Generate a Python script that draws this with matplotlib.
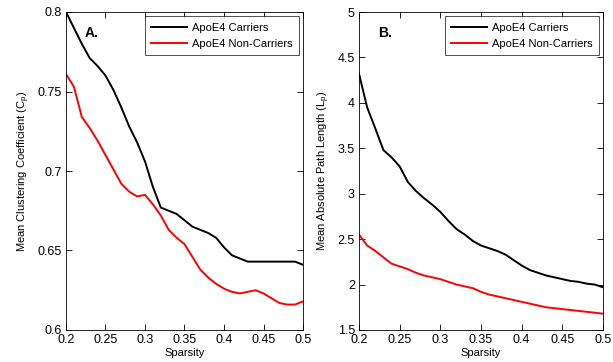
import matplotlib
matplotlib.use('Agg')
import matplotlib.pyplot as plt

plt.rcParams['font.family'] = ['Liberation Sans', 'DejaVu Sans']
plt.rcParams['font.size'] = 8

sparsity = [0.20, 0.21, 0.22, 0.23, 0.24, 0.25, 0.26, 0.27, 0.28, 0.29, 0.30,
            0.31, 0.32, 0.33, 0.34, 0.35, 0.36, 0.37, 0.38, 0.39, 0.40,
            0.41, 0.42, 0.43, 0.44, 0.45, 0.46, 0.47, 0.48, 0.49, 0.50]

# A: mean clustering coefficient
cp_carriers = [0.800, 0.790, 0.780, 0.771, 0.766, 0.760, 0.751, 0.740, 0.728, 0.718, 0.706,
               0.690, 0.677, 0.675, 0.673, 0.669, 0.665, 0.663, 0.661, 0.658, 0.652,
               0.647, 0.645, 0.643, 0.643, 0.643, 0.643, 0.643, 0.643, 0.643, 0.641]
cp_noncarriers = [0.761, 0.753, 0.734, 0.727, 0.719, 0.710, 0.701, 0.692, 0.687, 0.684, 0.685,
                  0.679, 0.672, 0.663, 0.658, 0.654, 0.646, 0.638, 0.633, 0.629, 0.626,
                  0.624, 0.623, 0.624, 0.625, 0.623, 0.620, 0.617, 0.616, 0.616, 0.618]

# B: mean absolute path length
lp_carriers = [4.32, 3.95, 3.72, 3.48, 3.40, 3.30, 3.13, 3.03, 2.95, 2.88, 2.80,
               2.70, 2.61, 2.55, 2.48, 2.43, 2.40, 2.37, 2.33, 2.27, 2.21,
               2.16, 2.13, 2.10, 2.08, 2.06, 2.04, 2.03, 2.01, 2.00, 1.97]
lp_noncarriers = [2.55, 2.43, 2.37, 2.30, 2.23, 2.20, 2.17, 2.13, 2.10, 2.08, 2.06,
                  2.03, 2.00, 1.98, 1.96, 1.92, 1.89, 1.87, 1.85, 1.83, 1.81,
                  1.79, 1.77, 1.75, 1.74, 1.73, 1.72, 1.71, 1.70, 1.69, 1.68]

fig = plt.figure(figsize=(6.13, 3.62), dpi=100)
ax1 = fig.add_axes([66/613, 1 - 330/362, 237/613, 318/362])
ax2 = fig.add_axes([359/613, 1 - 330/362, 244/613, 318/362])


def style(ax, ylim, yticks, ylabel, letter, ytl):
    ax.set_xlim(0.2, 0.5)
    ax.set_ylim(*ylim)
    ax.set_xticks([0.2, 0.25, 0.3, 0.35, 0.4, 0.45, 0.5])
    ax.set_xticklabels(['0.2', '0.25', '0.3', '0.35', '0.4', '0.45', '0.5'])
    ax.set_yticks(yticks)
    ax.set_yticklabels(ytl)
    ax.tick_params(direction='in', top=True, right=True, length=4, width=0.6,
                   labelsize=9, pad=3)
    for s in ax.spines.values():
        s.set_linewidth(0.6)
    ax.set_xlabel('Sparsity', fontsize=8, labelpad=1)
    ax.set_ylabel(ylabel, fontsize=8, labelpad=4)
    ax.text(0.08, 0.934, letter, transform=ax.transAxes, fontsize=10,
            fontweight='bold', va='center', ha='left')
    leg = ax.legend(loc='upper right', fontsize=8, frameon=True, fancybox=False,
                    edgecolor='black', borderaxespad=0.4, handlelength=3.3,
                    handletextpad=0.4, labelspacing=0.55, borderpad=0.55)
    leg.get_frame().set_linewidth(0.6)


ax1.plot(sparsity, cp_carriers, color='black', lw=1.4, label='ApoE4 Carriers')
ax1.plot(sparsity, cp_noncarriers, color='red', lw=1.4, label='ApoE4 Non-Carriers')
style(ax1, (0.6, 0.8), [0.6, 0.65, 0.7, 0.75, 0.8],
      r'Mean Clustering Coefficient (C$_\mathregular{p}$)', 'A.',
      ['0.6', '0.65', '0.7', '0.75', '0.8'])

ax2.plot(sparsity, lp_carriers, color='black', lw=1.4, label='ApoE4 Carriers')
ax2.plot(sparsity, lp_noncarriers, color='red', lw=1.4, label='ApoE4 Non-Carriers')
style(ax2, (1.5, 5), [1.5, 2, 2.5, 3, 3.5, 4, 4.5, 5],
      r'Mean Absolute Path Length (L$_\mathregular{p}$)', 'B.',
      ['1.5', '2', '2.5', '3', '3.5', '4', '4.5', '5'])

fig.savefig('out.png', dpi=100)
